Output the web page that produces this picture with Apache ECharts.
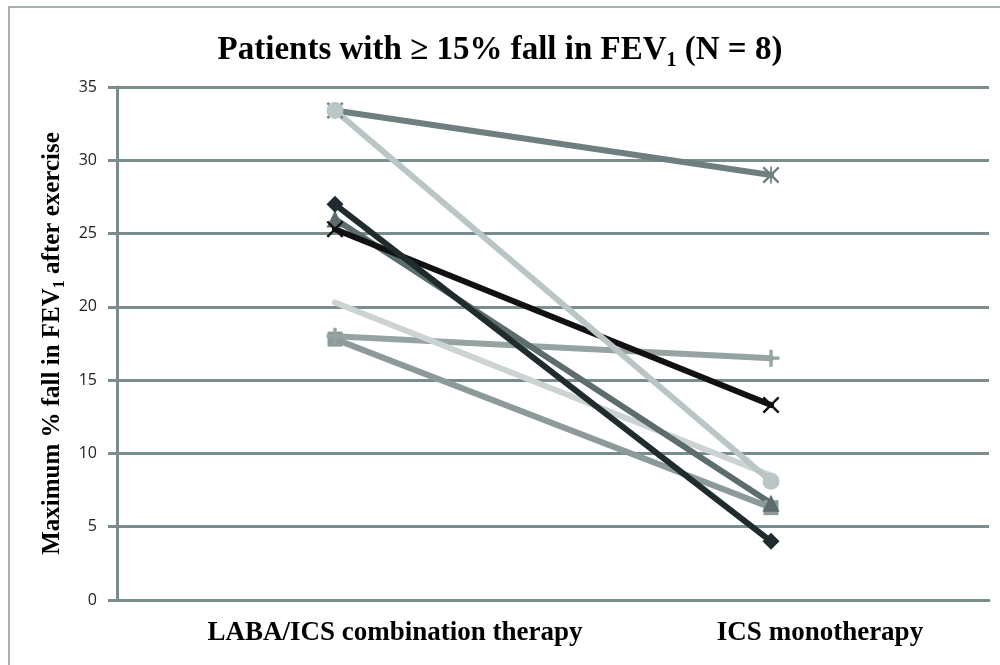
<!DOCTYPE html>
<html>
<head>
<meta charset="utf-8">
<script src="https://cdn.jsdelivr.net/npm/echarts@6/dist/echarts.min.js"></script>
<style>
  html, body { margin: 0; padding: 0; background: #fff; }
  #chart { width: 1000px; height: 665px; }
</style>
</head>
<body>
<div id="chart"></div>
<script>
// categories on the x axis
const categories = ["LABA/ICS combination therapy", "ICS monotherapy"];
// y axis ticks
const yMin = 0, yMax = 35, yStep = 5;
// one array per patient: [combination, monotherapy]
const patientStar = [33.4, 29.0];
const patientCircle = [33.4, 8.1];
const patientDiamond = [27.0, 4.0];
const patientTriangle = [26.0, 6.6];
const patientCross = [25.3, 13.3];
const patientLight = [20.3, 8.5];
const patientPlus = [18.0, 16.5];
const patientSquare = [17.8, 6.3];

const GRID_COLOR = "#7a8c8c";
const SERIF = "'Liberation Serif', 'DejaVu Serif', serif";

// marker shapes (Excel style)
const X_PATH = "path://M0,2 L2,0 L10,8 L18,0 L20,2 L12,10 L20,18 L18,20 L10,12 L2,20 L0,18 L8,10 Z";
const PLUS_PATH = "path://M8,0 H12 V8 H20 V12 H12 V20 H8 V12 H0 V8 H8 Z";
const STAR_PATH = X_PATH + " M9,0 H11 V20 H9 Z";

function line(data, color, symbol, size) {
  return {
    type: "line",
    data: data,
    symbol: symbol,
    symbolSize: size,
    showSymbol: symbol !== "none",
    lineStyle: { color: color, width: 6, cap: "round" },
    itemStyle: { color: color },
    z: 3
  };
}

const chart = echarts.init(document.getElementById("chart"));

const option = {
  animation: false,
  backgroundColor: "#fff",
  graphic: [
    {
      type: "rect",
      shape: { x: 9, y: 7, width: 1000, height: 700 },
      style: { fill: "none", stroke: "#8a9a9a", lineWidth: 1.5 },
      silent: true
    }
  ],
  title: {
    text: "{t|Patients with ≥ 15% fall in FEV}{s|1}{t| (N = 8)}",
    left: "center",
    top: 24,
    textStyle: {
      rich: {
        t: { fontFamily: SERIF, fontWeight: "bold", fontSize: 33, color: "#000", lineHeight: 42 },
        s: { fontFamily: SERIF, fontWeight: "bold", fontSize: 20, color: "#000", lineHeight: 20, verticalAlign: "bottom" }
      }
    }
  },
  grid: { left: 117, right: 11, top: 87, bottom: 65 },
  xAxis: {
    type: "category",
    data: categories,
    boundaryGap: true,
    axisLine: { show: true, lineStyle: { color: GRID_COLOR, width: 3 } },
    axisTick: { show: false },
    axisLabel: {
      margin: 20,
      formatter: function (v, i) {
        return i === 0 ? "{a|" + v + "}" : "{b|" + v + "}";
      },
      rich: {
        a: { fontFamily: SERIF, fontWeight: "bold", fontSize: 27, color: "#000", padding: [0, 0, 0, 120] },
        b: { fontFamily: SERIF, fontWeight: "bold", fontSize: 27, color: "#000", padding: [0, 0, 0, 98] }
      }
    }
  },
  yAxis: {
    type: "value",
    min: yMin,
    max: yMax,
    interval: yStep,
    name: "{t|Maximum % fall in FEV}{s|1}{t| after exercise}",
    nameLocation: "middle",
    nameGap: 49,
    nameTextStyle: {
      rich: {
        t: { fontFamily: SERIF, fontWeight: "bold", fontSize: 25, color: "#000", lineHeight: 30 },
        s: { fontFamily: SERIF, fontWeight: "bold", fontSize: 16, color: "#000", lineHeight: 16, verticalAlign: "bottom" }
      }
    },
    axisLine: { show: true, lineStyle: { color: GRID_COLOR, width: 3 } },
    axisTick: { show: true, length: 9, lineStyle: { color: GRID_COLOR, width: 3 } },
    splitLine: { show: true, lineStyle: { color: GRID_COLOR, width: 3 } },
    axisLabel: {
      margin: 20,
      color: "#222",
      fontSize: 16,
      fontFamily: "'Open Sans', sans-serif"
    }
  },
  series: [
    line(patientStar, "#6f7f80", STAR_PATH, 17),
    line(patientSquare, "#8c9a9a", "rect", 15),
    line(patientPlus, "#95a3a3", PLUS_PATH, 17),
    line(patientLight, "#cbd3d3", "none", 0),
    line(patientTriangle, "#5d6c6d", "triangle", 17),
    line(patientCross, "#111111", X_PATH, 17),
    line(patientDiamond, "#1f2b2c", "diamond", 17),
    line(patientCircle, "#bac6c6", "circle", 17)
  ]
};

chart.setOption(option);
</script>
</body>
</html>
